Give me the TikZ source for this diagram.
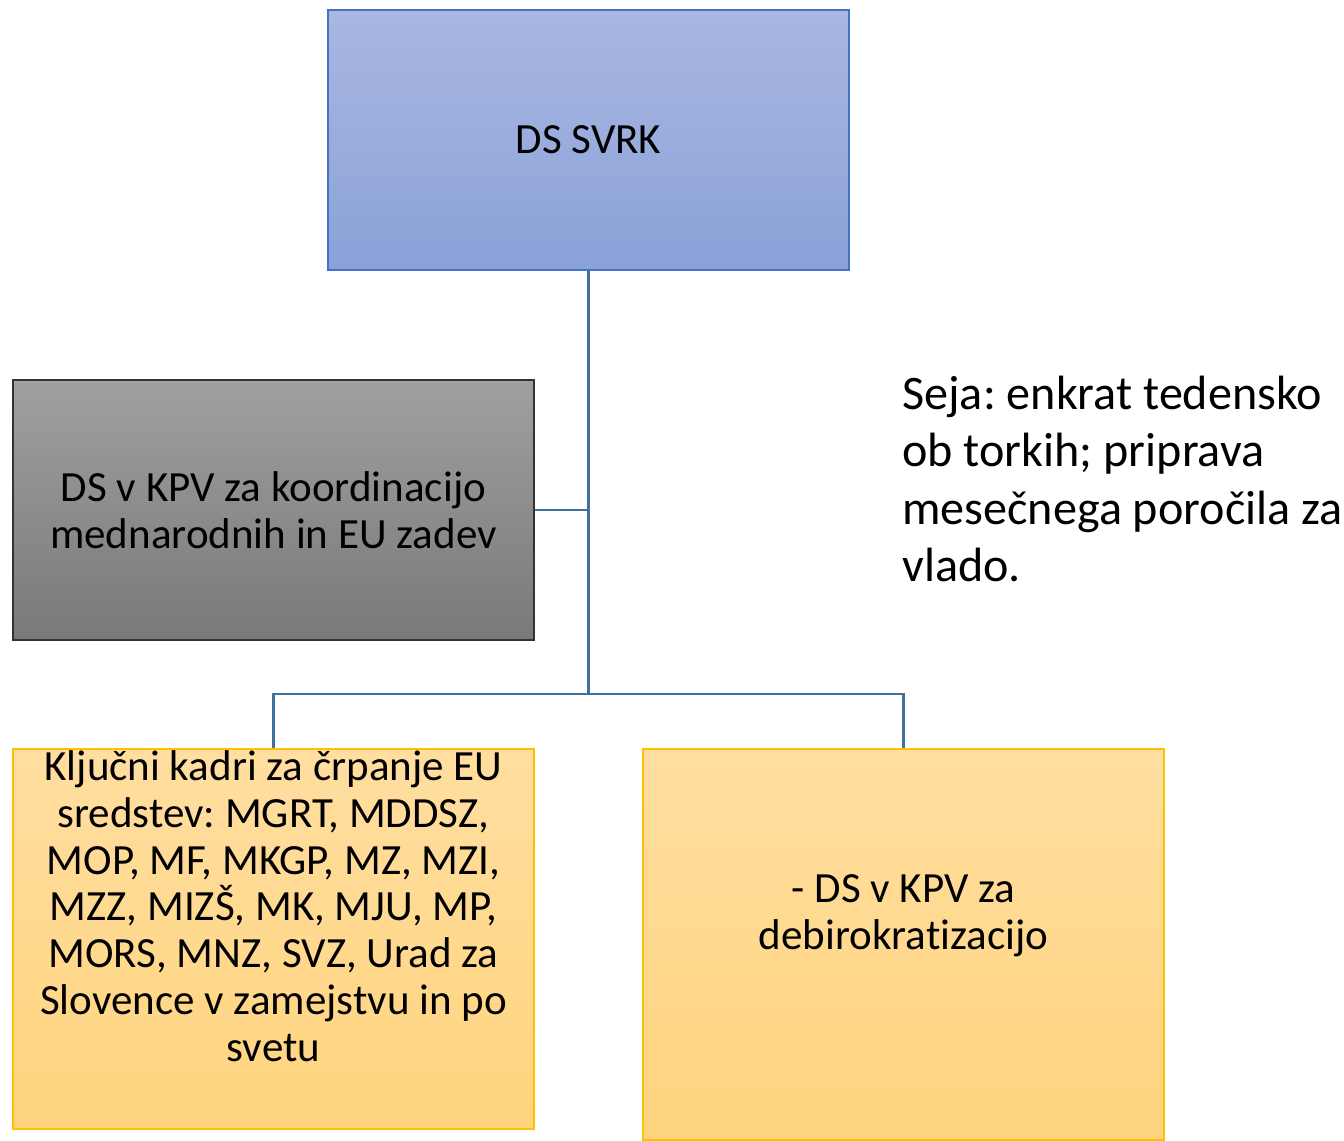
\documentclass[tikz,border=0pt]{standalone}
\usepackage{fontspec}
\setmainfont{Carlito}[Ligatures=NoCommon]
\frenchspacing
\usetikzlibrary{positioning}
\definecolor{svrktop}{HTML}{A9B7E1}
\definecolor{svrkbot}{HTML}{8AA2D8}
\definecolor{svrkline}{HTML}{4472C4}
\definecolor{greytop}{HTML}{A0A0A0}
\definecolor{greybot}{HTML}{797979}
\definecolor{oratop}{HTML}{FFDEA0}
\definecolor{orabot}{HTML}{FFD47E}
\definecolor{oraline}{HTML}{FFC000}
\definecolor{linkblue}{HTML}{41719C}
\tikzstyle{boxtext} = [align=center, font=\fontsize{24.5}{26.6}\selectfont, inner sep=0pt]
\tikzstyle{svrk} = [rectangle, minimum width=10.42cm, minimum height=5.2cm, draw=svrkline, line width=1pt, top color=svrktop, bottom color=svrkbot, boxtext]
\tikzstyle{grey} = [rectangle, minimum width=10.42cm, minimum height=5.2cm, draw=black!80, line width=1pt, top color=greytop, bottom color=greybot, boxtext]
\tikzstyle{orange} = [rectangle, minimum width=10.42cm, draw=oraline, line width=1pt, top color=oratop, bottom color=orabot]
\tikzstyle{note} = [align=left, font=\fontsize{27.4}{32.5}\selectfont, inner sep=0pt, anchor=west]
\tikzstyle{link} = [draw=linkblue, line width=1.6pt]

\begin{document}
\begin{tikzpicture}[x=0.02cm, y=-0.02cm]
\useasboundingbox (0,0) rectangle (1344,1141);

\node[svrk] (svrk) at (588.5,140) {DS SVRK};
\node[grey] (kpv) at (273.5,510) {DS v KPV za koordinacijo\\mednarodnih in EU zadev};
\node[orange, minimum height=7.6cm] (kadri) at (273.5,939) {};
\node[orange, minimum height=7.82cm] (debiro) at (903.5,944.5) {};
\node[boxtext] (kadritxt) at (273.5,906) {Ključni kadri za črpanje EU\\sredstev: MGRT, MDDSZ,\\MOP, MF, MKGP, MZ, MZI,\\MZZ, MIZŠ, MK, MJU, MP,\\MORS, MNZ, SVZ, Urad za\\Slovence v zamejstvu in po\\svetu};
\node[boxtext] (debirotxt) at (903.5,916) {- DS v KPV za\\debirokratizacijo};
\node[note] (seja) at (902,479) {Seja: enkrat tedensko\\ob torkih; priprava\\mesečnega poročila za\\vlado.};

\coordinate (hub) at (588.5,694);
\draw[link] (svrk.south) -- (hub);
\draw[link] (kpv.east) -- (kpv.east -| svrk.south);
\draw[link] (kadri.north) |- (hub) -| (debiro.north);

\end{tikzpicture}
\end{document}
